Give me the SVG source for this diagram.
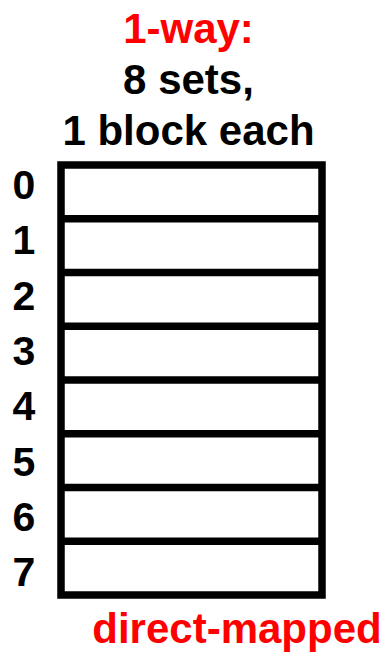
<svg xmlns="http://www.w3.org/2000/svg" width="386" height="653" viewBox="0 0 386 653">
<style>
.t{font-family:"Liberation Sans",Arial,sans-serif;font-weight:bold;font-size:42px;text-anchor:middle}
.red{fill:#ff0000}
.blk{fill:#000}
.d{font-family:"Liberation Sans",Arial,sans-serif;font-weight:bold;font-size:41px;text-anchor:middle;fill:#000}
.ln{stroke:#000;stroke-width:7.5;fill:none}
</style>
<rect width="386" height="653" fill="#fff"/>
<g id="title">
<text class="t red" x="188.5" y="43">1-way:</text>
<text class="t blk" x="188.5" y="94">8 sets,</text>
<text class="t blk" x="188.5" y="145">1 block each</text>
</g>
<g id="cache">
<rect class="ln" x="61" y="165" width="261" height="430"/>
<line class="ln" x1="61" y1="218.75" x2="322" y2="218.75"/>
<line class="ln" x1="61" y1="272.5" x2="322" y2="272.5"/>
<line class="ln" x1="61" y1="326.25" x2="322" y2="326.25"/>
<line class="ln" x1="61" y1="380" x2="322" y2="380"/>
<line class="ln" x1="61" y1="433.75" x2="322" y2="433.75"/>
<line class="ln" x1="61" y1="487.5" x2="322" y2="487.5"/>
<line class="ln" x1="61" y1="541.25" x2="322" y2="541.25"/>
</g>
<g id="labels">
<text class="d" x="24" y="199">0</text>
<text class="d" x="24" y="254.3">1</text>
<text class="d" x="24" y="309.6">2</text>
<text class="d" x="24" y="364.9">3</text>
<text class="d" x="24" y="420.2">4</text>
<text class="d" x="24" y="475.5">5</text>
<text class="d" x="24" y="530.8">6</text>
<text class="d" x="24" y="586.1">7</text>
</g>
<g id="footer">
<text class="t red" x="237" y="643">direct-mapped</text>
</g>
</svg>
